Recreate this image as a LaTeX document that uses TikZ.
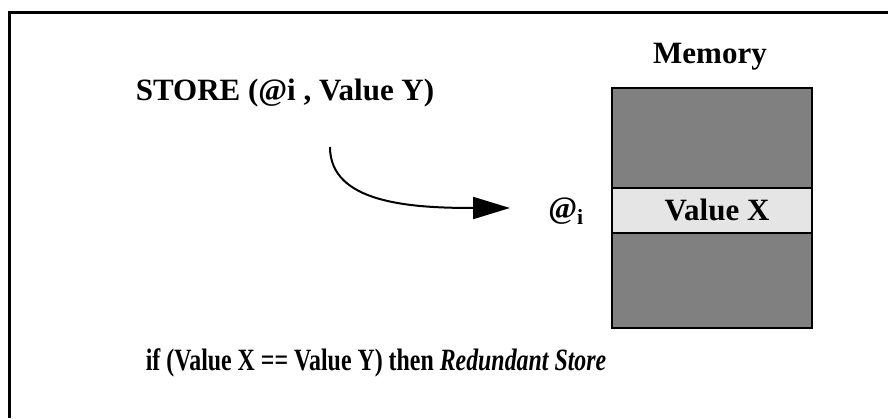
\documentclass[tikz,border=0pt]{standalone}
\usepackage{fontspec}
\setmainfont{Liberation Serif}
\usetikzlibrary{arrows.meta}
\begin{document}
\begin{tikzpicture}[x=1pt,y=1pt,
  lbl/.style={font=\bfseries\fontsize{31}{36}\selectfont, inner sep=0pt},
  memcell/.style={draw=black, line width=1.8pt, inner sep=0pt},
]
\useasboundingbox (0,0) rectangle (888,418);
% frame (top and left only)
\draw[line width=3pt] (9.5,0) -- (9.5,405) -- (888,405);
% memory
\node[memcell, fill=black!50, minimum width=200pt, minimum height=240pt, anchor=north west] (mem) at (611,331) {};
\node[memcell, fill=black!10, minimum width=200pt, minimum height=45pt, anchor=north west] (cell) at (611,231) {};
\node[lbl] (vx) at (717,208) {Value X};
\node[lbl] (memt) at (710,361) {Memory};
\node[lbl] (store) at (285,325) {STORE (@i , Value Y)};
\node[lbl] (addr) at (566,207) {@\textsubscript{i}};
\node[lbl, xscale=0.77] (cond) at (376,55) {if (Value X == Value Y) then \textit{Redundant Store}};
\coordinate (s) at (330,271);
\coordinate (e) at (510,210);
\draw[line width=2pt, -{Triangle[length=37pt,width=22pt]}] (s) .. controls (330,215) and (410,210) .. (e);
\end{tikzpicture}
\end{document}
